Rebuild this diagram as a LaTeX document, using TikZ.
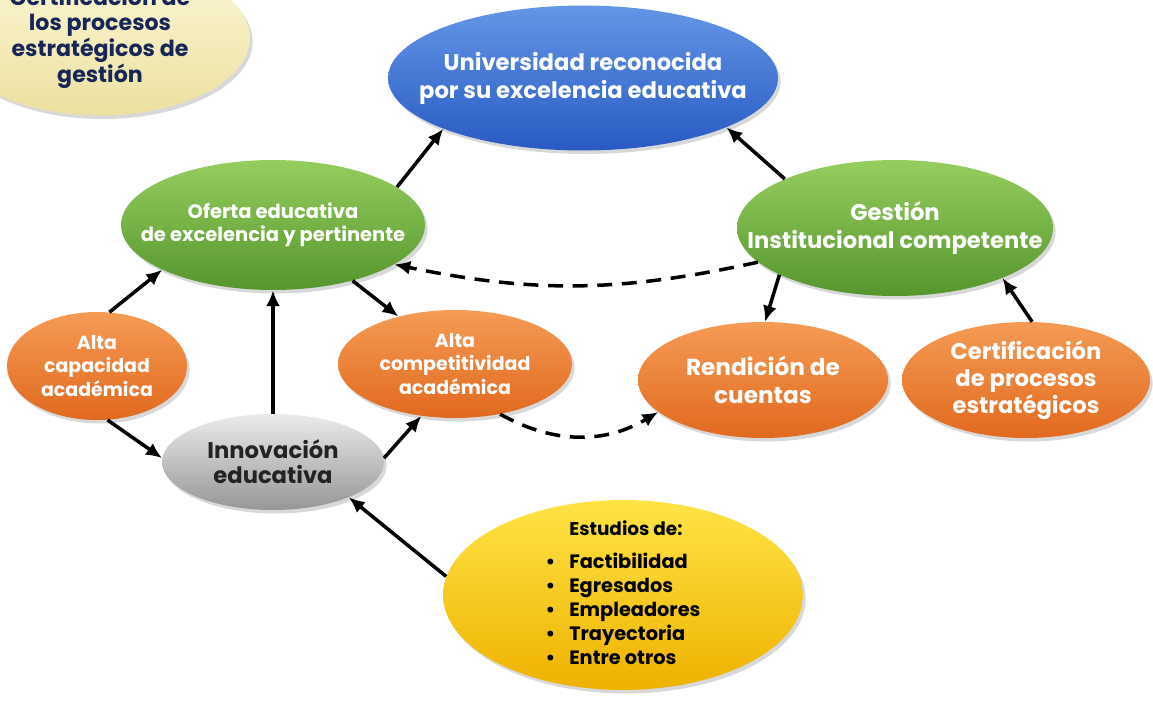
\documentclass[tikz,border=0pt]{standalone}
\usepackage{fontspec}
\setmainfont{Poppins}
\usepackage{tikz}
\usetikzlibrary{arrows.meta,shapes,calc,positioning,shadows}

\definecolor{azulA}{RGB}{100,150,230}
\definecolor{azulB}{RGB}{40,90,195}
\definecolor{verdeA}{RGB}{150,205,95}
\definecolor{verdeB}{RGB}{85,150,45}
\definecolor{naranjaA}{RGB}{245,155,85}
\definecolor{naranjaB}{RGB}{225,105,30}
\definecolor{grisA}{RGB}{235,235,235}
\definecolor{grisB}{RGB}{150,150,150}
\definecolor{amarilloA}{RGB}{255,228,70}
\definecolor{amarilloB}{RGB}{238,178,0}
\definecolor{cremaA}{RGB}{253,248,215}
\definecolor{cremaB}{RGB}{236,224,160}
\definecolor{marino}{RGB}{22,38,88}
\definecolor{oscuro}{RGB}{35,35,35}

\newcommand{\tam}[2]{\fontsize{#1}{#2}\selectfont}

\begin{document}
\begin{tikzpicture}
  [x=0.02cm, y=-0.02cm,
  every node/.style={ellipse, align=center, inner sep=-25pt, text=white},
  burbuja/.style={drop shadow={shadow xshift=1.5pt, shadow yshift=-2pt, opacity=0.3}},
  azul/.style={burbuja, top color=azulA, bottom color=azulB},
  verde/.style={burbuja, top color=verdeA, bottom color=verdeB},
  naranja/.style={burbuja, top color=naranjaA, bottom color=naranjaB},
 ]
  \tikzstyle{flecha}=[draw, -{Latex[length=9pt,width=8pt]}, line width=2pt, black]
  \tikzstyle{punteada}=[flecha, dash pattern=on 8.5pt off 5.5pt]
\clip (0,0) rectangle (1153,700);
\fill[white] (0,0) rectangle (1153,700);

% nodos
\node[burbuja, top color=cremaA, bottom color=cremaB, minimum width=6cm, minimum height=3.1cm,
  text=marino, font=\bfseries\tam{12.6}{13.8}] (certtop) at (100,38)
  {Certificación de\\los procesos\\estratégicos de\\gestión};
\node[azul, minimum width=7.8cm, minimum height=2.9cm, font=\bfseries\tam{12.9}{15.9}] (univ) at (583,78)
  {Universidad reconocida\\por su excelencia educativa};
\node[verde, minimum width=6.08cm, minimum height=2.6cm, font=\bfseries\tam{11.1}{13}] (oferta) at (273,225)
  {Oferta educativa\\de excelencia y pertinente};
\node[verde, minimum width=6.32cm, minimum height=2.72cm, font=\bfseries\tam{12.9}{16}] (gestion) at (895,228)
  {Gestión\\Institucional competente};
\node[naranja, minimum width=3.6cm, minimum height=2.16cm, font=\bfseries\tam{10.8}{13.2}] (capacidad) at (97,366)
  {Alta\\capacidad\\académica};
\node[naranja, minimum width=4.68cm, minimum height=2.16cm, font=\bfseries\tam{10.8}{13.2}] (competit) at (455,364)
  {Alta\\competitividad\\académica};
\node[burbuja, top color=grisA, bottom color=grisB, minimum width=4.44cm, minimum height=1.92cm,
  text=oscuro, font=\bfseries\tam{12.9}{14.2}] (innov) at (273,462)
  {Innovación\\educativa};
\node[naranja, minimum width=5cm, minimum height=2.32cm, font=\bfseries\tam{13.2}{16}] (rendicion) at (763,380)
  {Rendición de\\cuentas};
\node[naranja, minimum width=4.96cm, minimum height=2.32cm, font=\bfseries\tam{12.9}{15.4}] (certif) at (1026,380)
  {Certificación\\de procesos\\estratégicos};
\node[burbuja, top color=amarilloA, bottom color=amarilloB, minimum width=7.2cm, minimum height=3.8cm,
  text=black, font=\bfseries\tam{11}{13.7}] (estudios) at (623,595)
  {\begin{tabular}{@{}c@{\hspace{8pt}}l@{}}
    & {\tam{10.5}{13.7}Estudios de:}\\[5pt]
    \textbullet & Factibilidad\\
    \textbullet & Egresados\\
    \textbullet & Empleadores\\
    \textbullet & Trayectoria\\
    \textbullet & Entre otros
  \end{tabular}};

% flechas
\draw[flecha] (oferta.17) -- (univ.200);
\draw[flecha] (gestion.156) -- (univ.341);
\draw[flecha] (capacidad.77) -- (oferta.202);
\draw[flecha] (oferta.325) -- (competit.140);
\draw[flecha] (innov.90) -- (oferta.270);
\draw[flecha] (capacidad.281) -- (innov.178);
\draw[flecha] (innov.2) -- (competit.237);
\draw[flecha] (estudios.174) -- (innov.335);
\draw[flecha] (gestion.202) -- (rendicion.88);
\draw[flecha] (certif.84) -- (gestion.335);
\draw[punteada] (gestion.194) to[bend left=12] (oferta.342);
\draw[punteada] (competit.312) to[bend right=30] (rendicion.197);
\end{tikzpicture}
\end{document}
